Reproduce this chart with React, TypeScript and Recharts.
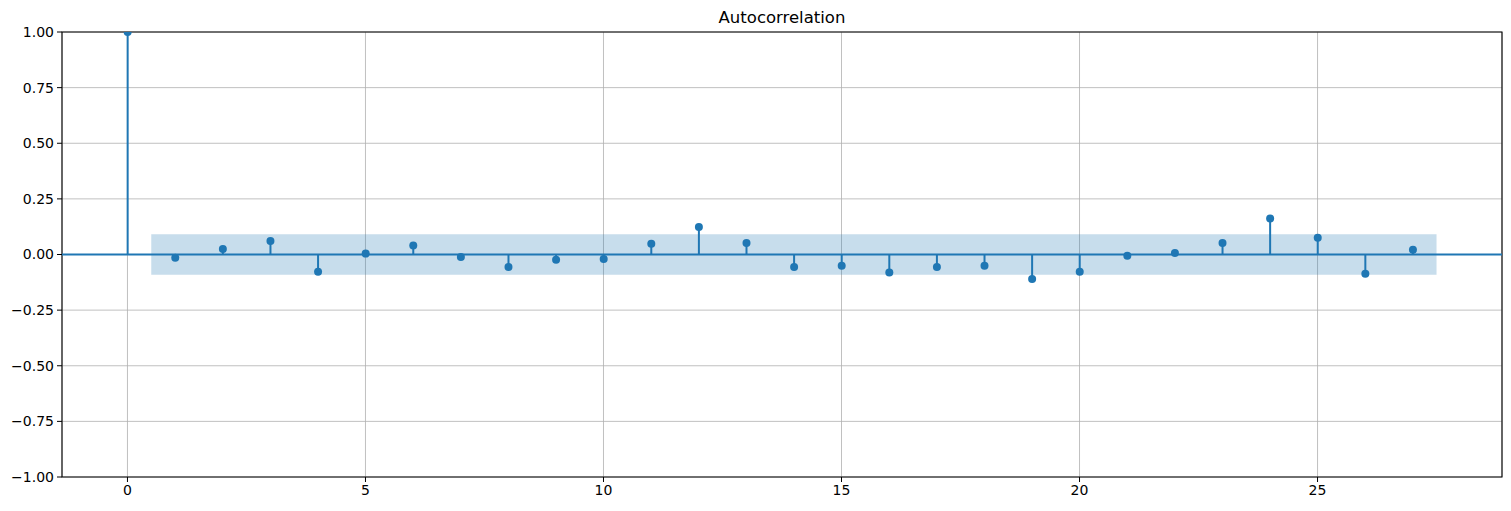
import {
  Bar,
  CartesianGrid,
  ComposedChart,
  ReferenceArea,
  ReferenceLine,
  XAxis,
  YAxis,
} from "recharts";

// lags 0..27 and their autocorrelation values
const lags = [
  0, 1, 2, 3, 4, 5, 6, 7, 8, 9, 10, 11, 12, 13, 14, 15, 16, 17, 18, 19, 20,
  21, 22, 23, 24, 25, 26, 27,
];
const acfValues = [
  1.0, -0.015, 0.025, 0.061, -0.078, 0.004, 0.04, -0.011, -0.056, -0.024,
  -0.02, 0.048, 0.124, 0.052, -0.056, -0.051, -0.081, -0.056, -0.051, -0.11,
  -0.077, -0.006, 0.007, 0.052, 0.162, 0.075, -0.086, 0.021,
];
const confLow = -0.0915;
const confHigh = 0.0915;
const bandStart = 0.5;
const bandEnd = 27.5;

const xTicks = [0, 5, 10, 15, 20, 25];
const yTicks = [-1, -0.75, -0.5, -0.25, 0, 0.25, 0.5, 0.75, 1];
const xDomain = [-1.375, 28.875];
const yDomain = [-1, 1];

const data = lags.map((lag, i) => ({ lag, acf: acfValues[i] }));

const BLUE = "#1f77b4";
const FONT = "'DejaVu Sans', sans-serif";

const fmtY = (v: number) => {
  const s = Math.abs(v).toFixed(2);
  return v < 0 ? `\u2212${s}` : s;
};

// stem: line from zero to the value, marker on the value end
const Stem = (props: any) => {
  const { x, y, width, height } = props;
  if (x == null || y == null) return null;
  const cx = x + width / 2;
  return (
    <g>
      <line
        x1={cx}
        x2={cx}
        y1={y}
        y2={y + height}
        stroke={BLUE}
        strokeWidth={2}
      />
      <circle cx={cx} cy={y} r={4} fill={BLUE} />
    </g>
  );
};

export default function App() {
  return (
    <div
      style={{
        position: "absolute",
        left: 0,
        top: 0,
        width: 1511,
        height: 511,
        background: "#fff",
        fontFamily: FONT,
      }}
    >
      <div
        style={{
          position: "absolute",
          left: 62,
          width: 1440,
          top: 8,
          textAlign: "center",
          fontSize: 16.5,
          color: "#000",
        }}
      >
        Autocorrelation
      </div>
      <ComposedChart
        width={1511}
        height={511}
        data={data}
        margin={{ top: 32, right: 9, bottom: 0, left: 0 }}
      >
        <CartesianGrid stroke="#b0b0b0" strokeWidth={0.8} />
        <XAxis
          dataKey="lag"
          type="number"
          domain={xDomain}
          ticks={xTicks}
          allowDataOverflow
          height={34}
          tickSize={5}
          tickMargin={3}
          axisLine={false}
          tickLine={{ stroke: "#000" }}
          tick={{ fill: "#000", fontSize: 14, fontFamily: FONT }}
        />
        <YAxis
          type="number"
          domain={yDomain}
          ticks={yTicks}
          allowDataOverflow
          width={62}
          tickSize={5}
          tickMargin={3}
          tickFormatter={fmtY}
          axisLine={false}
          tickLine={{ stroke: "#000" }}
          tick={{ fill: "#000", fontSize: 14, fontFamily: FONT }}
        />
        <ReferenceArea
          x1={bandStart}
          x2={bandEnd}
          y1={confLow}
          y2={confHigh}
          fill={BLUE}
          fillOpacity={0.25}
          stroke="none"
        />
        <ReferenceLine y={0} stroke={BLUE} strokeWidth={2} />
        <Bar
          dataKey="acf"
          barSize={2}
          shape={Stem}
          isAnimationActive={false}
        />
        {/* axes frame */}
        <ReferenceArea
          x1={xDomain[0]}
          x2={xDomain[1]}
          y1={yDomain[0]}
          y2={yDomain[1]}
          fill="none"
          stroke="#000"
          strokeWidth={1.1}
          fillOpacity={0}
          strokeOpacity={1}
        />
      </ComposedChart>
    </div>
  );
}
